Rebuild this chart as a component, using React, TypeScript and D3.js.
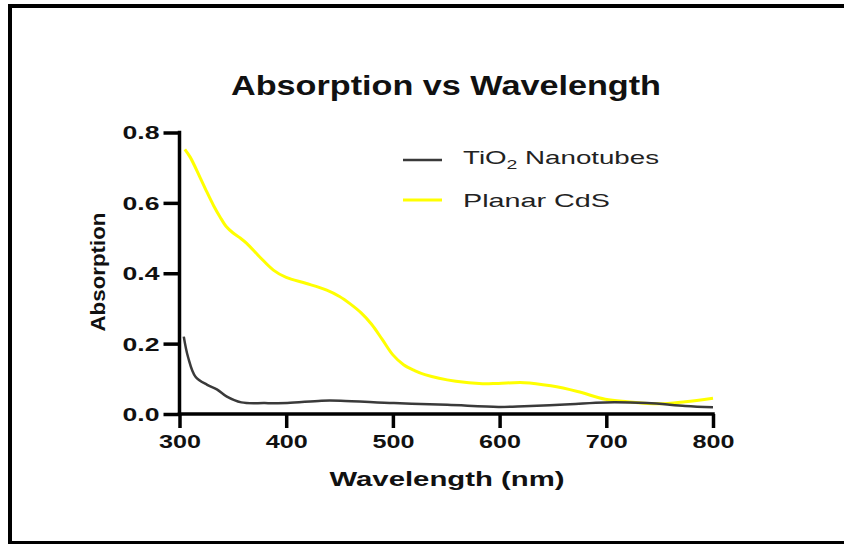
import React, { useEffect, useRef } from 'react';
import * as d3 from 'd3';

const tioWavelength = [304, 308, 315, 326, 335, 344, 358, 380, 401, 433, 451, 501, 551, 599, 623, 666, 699, 738, 774, 800];
const tioAbsorption = [0.22, 0.162, 0.106, 0.083, 0.07, 0.05, 0.033, 0.031, 0.031, 0.038, 0.038, 0.031, 0.026, 0.02, 0.022, 0.028, 0.033, 0.031, 0.023, 0.019];

const cdsWavelength = [305, 310, 319, 325, 332, 338, 344, 350, 357, 363, 375, 388, 400, 419, 438, 450, 460, 470, 480, 490, 500, 510, 520, 530, 559, 584, 599, 623, 648, 673, 699, 720, 749, 774, 800];
const cdsAbsorption = [0.752, 0.73, 0.674, 0.635, 0.592, 0.56, 0.532, 0.515, 0.5, 0.485, 0.447, 0.409, 0.388, 0.371, 0.352, 0.334, 0.313, 0.288, 0.255, 0.212, 0.168, 0.14, 0.124, 0.112, 0.093, 0.086, 0.087, 0.089, 0.08, 0.064, 0.042, 0.035, 0.029, 0.035, 0.045];

const xTicks = [300, 400, 500, 600, 700, 800];
const yTicks = [0, 0.2, 0.4, 0.6, 0.8];

const seriesNames = ['TiO', 'Planar CdS'];
const seriesColors = ['#3a3a3a', '#ffff00'];

const FONT = '"Liberation Sans", Arial, sans-serif';

function AbsorptionChart() {
  const ref = useRef<SVGSVGElement>(null);

  useEffect(() => {
    const svg = d3.select(ref.current);
    svg.selectAll('*').remove();

    // frame (right edge is cut off in the original)
    svg.append('rect')
      .attr('x', 10).attr('y', 6)
      .attr('width', 900).attr('height', 537)
      .attr('fill', 'white')
      .attr('stroke', 'black')
      .attr('stroke-width', 4);

    const x = d3.scaleLinear().domain([300, 800]).range([179.5, 713]);
    const y = d3.scaleLinear().domain([0, 0.8]).range([414, 132.5]);

    const xAxis = svg.append('g')
      .attr('transform', `translate(0, ${y(0)})`)
      .call(d3.axisBottom(x).tickValues(xTicks).tickSize(14).tickSizeOuter(0).tickFormat(d3.format('d')));
    xAxis.select('.domain').attr('stroke-width', 3.5).attr('d', `M${x(300) - 1.75},0H${x(800) + 1.75}`);
    xAxis.selectAll('.tick line').attr('stroke-width', 3.5);
    xAxis.selectAll('.tick text')
      .attr('y', 34)
      .attr('dy', 0)
      .attr('font-family', FONT)
      .attr('font-weight', 'bold')
      .attr('font-size', 18)
      .attr('fill', '#111')
      .attr('textLength', 42)
      .attr('lengthAdjust', 'spacingAndGlyphs');

    const yAxis = svg.append('g')
      .attr('transform', `translate(${x(300)}, 0)`)
      .call(d3.axisLeft(y).tickValues(yTicks).tickSize(16).tickSizeOuter(0).tickFormat(d3.format('.1f')));
    yAxis.select('.domain').attr('stroke-width', 3.5).attr('d', `M0,${y(0) + 1.75}V${y(0.8) - 1.75}`);
    yAxis.selectAll('.tick line').attr('stroke-width', 3.5);
    yAxis.selectAll('.tick text')
      .attr('x', -20)
      .attr('dy', '0.36em')
      .attr('font-family', FONT)
      .attr('font-weight', 'bold')
      .attr('font-size', 18)
      .attr('fill', '#111')
      .attr('textLength', 37)
      .attr('lengthAdjust', 'spacingAndGlyphs');

    const line = d3.line<[number, number]>()
      .x(d => x(d[0]))
      .y(d => y(d[1]))
      .curve(d3.curveCatmullRom.alpha(0.5));

    const tioData = tioWavelength.map((w, i) => [w, tioAbsorption[i]] as [number, number]);
    const cdsData = cdsWavelength.map((w, i) => [w, cdsAbsorption[i]] as [number, number]);

    svg.append('path')
      .datum(cdsData)
      .attr('d', line)
      .attr('fill', 'none')
      .attr('stroke', seriesColors[1])
      .attr('stroke-width', 3);

    svg.append('path')
      .datum(tioData)
      .attr('d', line)
      .attr('fill', 'none')
      .attr('stroke', seriesColors[0])
      .attr('stroke-width', 2.5);

    // title and axis labels
    svg.append('text')
      .attr('x', 446).attr('y', 95)
      .attr('text-anchor', 'middle')
      .attr('font-family', FONT)
      .attr('font-weight', 'bold')
      .attr('font-size', 28)
      .attr('fill', '#111')
      .attr('textLength', 430)
      .attr('lengthAdjust', 'spacingAndGlyphs')
      .text('Absorption vs Wavelength');

    svg.append('text')
      .attr('x', 447).attr('y', 486)
      .attr('text-anchor', 'middle')
      .attr('font-family', FONT)
      .attr('font-weight', 'bold')
      .attr('font-size', 21)
      .attr('fill', '#111')
      .attr('textLength', 235)
      .attr('lengthAdjust', 'spacingAndGlyphs')
      .text('Wavelength (nm)');

    svg.append('text')
      .attr('transform', 'translate(105, 272) rotate(-90)')
      .attr('text-anchor', 'middle')
      .attr('font-family', FONT)
      .attr('font-weight', 'bold')
      .attr('font-size', 20)
      .attr('fill', '#111')
      .attr('textLength', 119)
      .attr('lengthAdjust', 'spacingAndGlyphs')
      .text('Absorption');

    // legend
    const legendY = [160, 200];
    seriesColors.forEach((c, i) => {
      svg.append('line')
        .attr('x1', 403).attr('x2', 442)
        .attr('y1', legendY[i]).attr('y2', legendY[i])
        .attr('stroke', c)
        .attr('stroke-width', i === 0 ? 2.5 : 3);
    });

    const t1 = svg.append('text')
      .attr('x', 463).attr('y', legendY[0] + 4)
      .attr('font-family', FONT)
      .attr('font-size', 18.5)
      .attr('fill', '#222')
      .attr('textLength', 196)
      .attr('lengthAdjust', 'spacingAndGlyphs');
    t1.append('tspan').text(seriesNames[0]);
    t1.append('tspan').attr('dy', 5).attr('font-size', 13).text('2');
    t1.append('tspan').attr('dy', -5).text(' Nanotubes');

    svg.append('text')
      .attr('x', 463).attr('y', legendY[1] + 6.5)
      .attr('font-family', FONT)
      .attr('font-size', 18.5)
      .attr('fill', '#222')
      .attr('textLength', 147)
      .attr('lengthAdjust', 'spacingAndGlyphs')
      .text(seriesNames[1]);
  }, []);

  return (
    <svg
      ref={ref}
      width={844}
      height={544}
      style={{ position: 'absolute', left: 0, top: 0, display: 'block', background: 'white' }}
    />
  );
}

export default function App() {
  return <AbsorptionChart />;
}
